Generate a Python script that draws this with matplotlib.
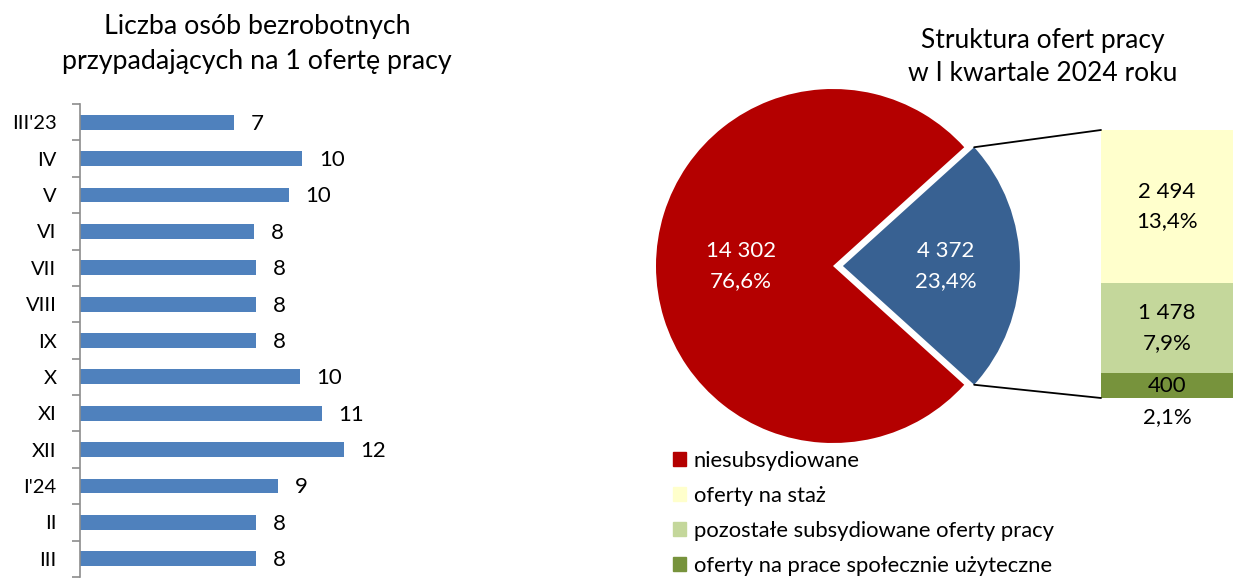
import matplotlib
matplotlib.use("Agg")
import matplotlib.pyplot as plt
from matplotlib.patches import ConnectionPatch, Patch
import numpy as np

plt.rcParams['font.family'] = ['Lato', 'DejaVu Sans']

# ---------------- data ----------------
months = ["III'23", "IV", "V", "VI", "VII", "VIII", "IX", "X", "XI", "XII", "I'24", "II", "III"]
unemployed_per_offer = [7.0, 10.1, 9.5, 7.9, 8.0, 8.0, 8.0, 10.0, 11.0, 12.0, 9.0, 8.0, 8.0]
bar_labels = ["7", "10", "10", "8", "8", "8", "8", "10", "11", "12", "9", "8", "8"]

pie_names = ["subsydiowane", "niesubsydiowane"]
pie_values = [4372, 14302]
sub_names = ["oferty na prace społecznie użyteczne", "pozostałe subsydiowane oferty pracy", "oferty na staż"]
sub_values = [400, 1478, 2494]

left_title = "Liczba osób bezrobotnych\nprzypadających na 1 ofertę pracy"
right_title = "Struktura ofert pracy\nw I kwartale 2024 roku"

# ---------------- style ----------------
BAR_C = "#4F81BD"
RED = "#B40000"
BLUE = "#386192"
SUB_COLORS = ["#77933C", "#C4D79B", "#FFFFCC"]

W, H = 1234, 581
fig = plt.figure(figsize=(W / 100, H / 100), dpi=100)


def fx(px):
    return px / W


def fy(py):
    return 1 - py / H


def fmt_int(v):
    return f"{v:,}".replace(",", " ")


def fmt_pct(p):
    return f"{p:.1f}".replace(".", ",") + "%"


# ---------------- bar chart ----------------
ax_x0, ax_top, ax_bot = 80, 104, 577
ppu = 22.0
xmax = 16
axb = fig.add_axes([fx(ax_x0), fy(ax_bot), xmax * ppu / W, (ax_bot - ax_top) / H])
y = np.arange(len(months))
axb.barh(y, unemployed_per_offer, height=0.41, color=BAR_C)
axb.set_ylim(len(months) - 0.5, -0.5)
axb.set_xlim(0, xmax)
for yi, v, lab in zip(y, unemployed_per_offer, bar_labels):
    axb.annotate(lab, (v, yi), xytext=(12, -1), textcoords="offset points",
                 ha="left", va="center", fontsize=16, color="black")
axb.set_yticks(y)
axb.set_yticklabels(months, fontsize=14.5)
axb.set_yticks(np.arange(-0.5, len(months)), minor=True)
axb.tick_params(axis="y", which="major", length=0, pad=17)
axb.tick_params(axis="y", which="minor", length=5.5, width=1.2, color="#8C8C8C", direction="out")
axb.xaxis.set_visible(False)
for s in ["top", "right", "bottom"]:
    axb.spines[s].set_visible(False)
axb.spines["left"].set_color("#8C8C8C")
axb.spines["left"].set_linewidth(1.2)

fig.text(fx(257), fy(44), left_title, ha="center", va="center", fontsize=19.3,
         linespacing=1.5)

# ---------------- pie chart ----------------
cx, cy, R = 833, 266, 177
span = 1.3
axp = fig.add_axes([fx(cx - span * R), fy(cy + span * R), 2 * span * R / W, 2 * span * R / H])
total = sum(pie_values)
start = -180 * pie_values[0] / total
wedges, _ = axp.pie(pie_values, colors=[BLUE, RED], startangle=start,
                    explode=[0.056, 0], counterclock=True,
                    wedgeprops=dict(linewidth=0))
axp.set_xlim(-span, span)
axp.set_ylim(-span, span)
axp.set_aspect("equal")
axp.axis("off")
for w, v, r in zip(wedges, pie_values, [0.58, 0.52]):
    ang = np.deg2rad((w.theta1 + w.theta2) / 2)
    c = w.center
    axp.text(c[0] + r * np.cos(ang), c[1] + r * np.sin(ang),
             fmt_int(v) + "\n" + fmt_pct(100 * v / total),
             ha="center", va="center", color="white", fontsize=16, linespacing=1.6)

fig.text(fx(1043), fy(57), right_title, ha="center", va="center", fontsize=19,
         linespacing=1.4)

# ---------------- stacked bar ----------------
bx0, bx1, by0, by1 = 1101, 1233, 130, 398
axs = fig.add_axes([fx(bx0), fy(by1), (bx1 - bx0) / W, (by1 - by0) / H])
sub_total = sum(sub_values)
bottom = 0
for v, c in zip(sub_values, SUB_COLORS):
    axs.bar(0, v, bottom=bottom, width=1.0, color=c, linewidth=0)
    bottom += v
axs.set_xlim(-0.5, 0.5)
axs.set_ylim(0, sub_total)
axs.axis("off")
bottom = 0
for i, v in enumerate(sub_values):
    txt_v = fmt_int(v)
    txt_p = fmt_pct(100 * v / total)
    if i == 0:
        axs.text(0, bottom + v / 2, txt_v, ha="center", va="center", fontsize=16)
        axs.annotate(txt_p, (0, bottom), xytext=(0, -14), textcoords="offset points",
                     ha="center", va="center", fontsize=16, annotation_clip=False)
    else:
        axs.text(0, bottom + v / 2, txt_v + "\n" + txt_p, ha="center", va="center",
                 fontsize=16, linespacing=1.6)
    bottom += v

# connector lines from blue wedge corners to the stacked bar
bw = wedges[0]
for th, ybar in [(bw.theta2, sub_total), (bw.theta1, 0)]:
    a = np.deg2rad(th)
    p = (bw.center[0] + np.cos(a), bw.center[1] + np.sin(a))
    con = ConnectionPatch(xyA=p, coordsA=axp.transData, xyB=(-0.5, ybar), coordsB=axs.transData,
                          color="black", linewidth=1.3)
    fig.add_artist(con)

# ---------------- legend ----------------
handles = [Patch(color=RED), Patch(color=SUB_COLORS[2]), Patch(color=SUB_COLORS[1]), Patch(color=SUB_COLORS[0])]
labels = [pie_names[1], sub_names[2], sub_names[1], sub_names[0]]
fig.legend(handles, labels, loc="upper left", bbox_to_anchor=(fx(673), fy(451)),
           frameon=False, fontsize=15.8, handlelength=0.6, handleheight=0.6,
           handletextpad=0.35, labelspacing=0.68, borderaxespad=0, borderpad=0)

fig.savefig("out.png", dpi=100)
